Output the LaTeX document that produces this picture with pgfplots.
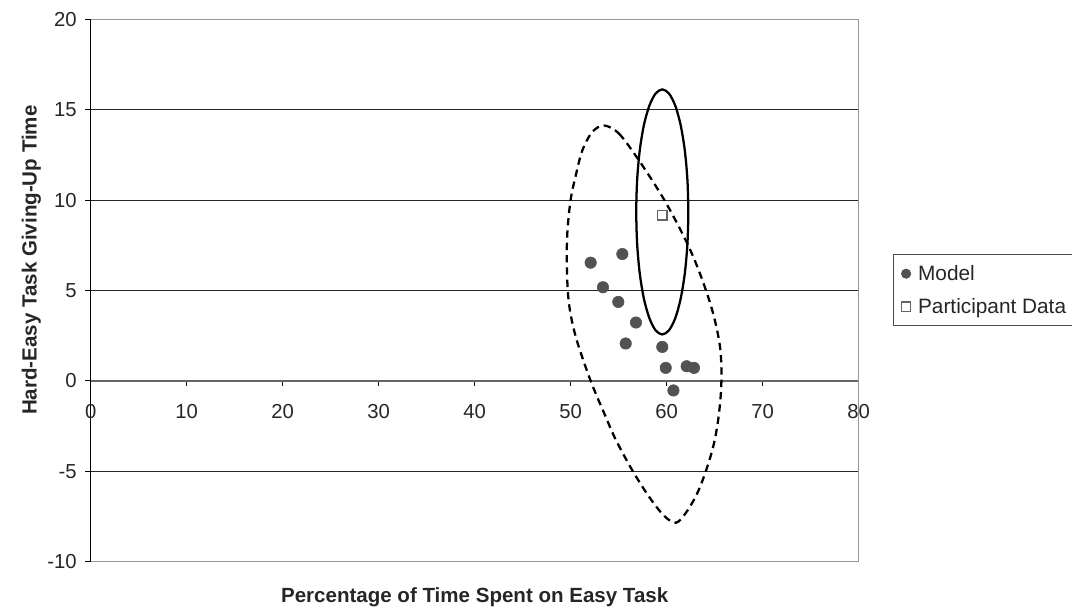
\documentclass[border=0pt]{standalone}
\usepackage{pgfplots}
\pgfplotsset{compat=1.18}
\usepackage{fontspec}
\setmainfont{Liberation Sans}
\definecolor{dotgray}{RGB}{82,82,82}
\definecolor{sqgray}{RGB}{100,100,100}
\definecolor{framegray}{RGB}{150,150,150}
\begin{document}
\begin{tikzpicture}
\path[use as bounding box] (-68.03pt,-38.55pt) rectangle (735.97pt,421.2pt);
\begin{axis}[
  scale only axis, width=576pt, height=406.6pt,
  at={(0,0)}, anchor=south west,
  xmin=0, xmax=80, ymin=-10, ymax=20,
  axis x line=middle, axis y line=left,
  hide obscured x ticks=false, hide obscured y ticks=false,
  x axis line style={-, black!60, line width=1pt},
  y axis line style={-, black, line width=1pt},
  xtick={0,10,...,80}, ytick={-10,-5,...,20},
  ymajorgrids, major grid style={black!85, line width=0.75pt},
  tick align=outside, major tick length=4pt,
  every tick/.style={black, line width=0.75pt},
  /pgf/number format/assume math mode=true,
  tick label style={font=\fontsize{15.2}{18}\selectfont, text=black!85},
  xticklabel style={yshift=-10pt},
  yticklabel style={xshift=-3pt},
  xlabel={\textbf{Percentage of Time Spent on Easy Task}},
  ylabel={\textbf{Hard-Easy Task Giving-Up Time}},
  every axis x label/.style={at={(axis description cs:0.5,-0.0401)}, anchor=north, font=\fontsize{15.4}{18}\selectfont, text=black!85},
  every axis y label/.style={at={(axis description cs:-0.096,0.556)}, anchor=north, rotate=90, font=\fontsize{15.4}{18}\selectfont, text=black!85},
  legend style={at={(axis description cs:1.0446,0.5674)}, anchor=north west, draw=black!70, line width=0.75pt,
    font=\fontsize{15.6}{18}\selectfont, text=black!85, row sep=8pt, column sep=3.5pt, inner xsep=6pt, inner ysep=6pt},
  legend cell align=left,
  clip=false,
]
% dashed ellipse (model range)
\addplot[black, line width=1.7pt, dash pattern=on 5.5pt off 3.75pt, smooth cycle, tension=0.55, forget plot] coordinates {
(53.47,14.13) (55.03,13.68) (57.11,12.20) (59.72,10.04) (61.98,7.78) (63.42,6.0)
(64.75,3.9) (65.55,1.9) (65.7,0.0) (65.45,-1.8) (64.95,-3.4) (64.2,-4.8)
(63.2,-6.2) (62.0,-7.3) (60.95,-7.85) (59.7,-7.45) (58.16,-6.41) (56.42,-4.95)
(54.71,-3.27) (53.65,-1.99) (52.08,0) (50.55,2.4) (49.82,4.28) (49.6,6.3) (49.65,8.2)
(50.0,10.04) (50.5,11.3) (51.21,12.75) (52.25,13.77)
};
% solid ellipse (participant range)
\addplot[black, line width=1.7pt, smooth cycle, forget plot] coordinates {
(62.25,9.35) (62.16,11.11) (61.89,12.74) (61.46,14.14) (60.90,15.22) (60.24,15.90)
(59.54,16.13) (58.84,15.90) (58.19,15.22) (57.62,14.14) (57.19,12.74) (56.92,11.11)
(56.83,9.35) (56.92,7.59) (57.19,5.96) (57.62,4.56) (58.19,3.48) (58.84,2.80)
(59.54,2.57) (60.24,2.80) (60.90,3.48) (61.46,4.56) (61.89,5.96) (62.16,7.59)
};
\addplot[only marks, mark=*, mark size=4.3pt, draw=dotgray, fill=dotgray, legend image post style={mark size=3.4pt}] coordinates {
(52.08,6.54) (55.38,7.02) (53.36,5.18) (54.96,4.37) (56.8,3.23) (55.73,2.07)
(59.54,1.88) (59.9,0.72) (62.08,0.81) (62.84,0.72) (60.7,-0.53)
};
\addlegendentry{Model}
\addplot[only marks, mark=square, mark size=3.5pt, mark options={draw=sqgray, fill=white, line width=1pt}] coordinates {
(59.54,9.16)
};
\addlegendentry{Participant Data}
\draw[framegray, line width=1.2pt] (rel axis cs:0,1) -- (rel axis cs:1,1) -- (rel axis cs:1,0) -- (rel axis cs:0,0);
\end{axis}
\end{tikzpicture}
\end{document}
